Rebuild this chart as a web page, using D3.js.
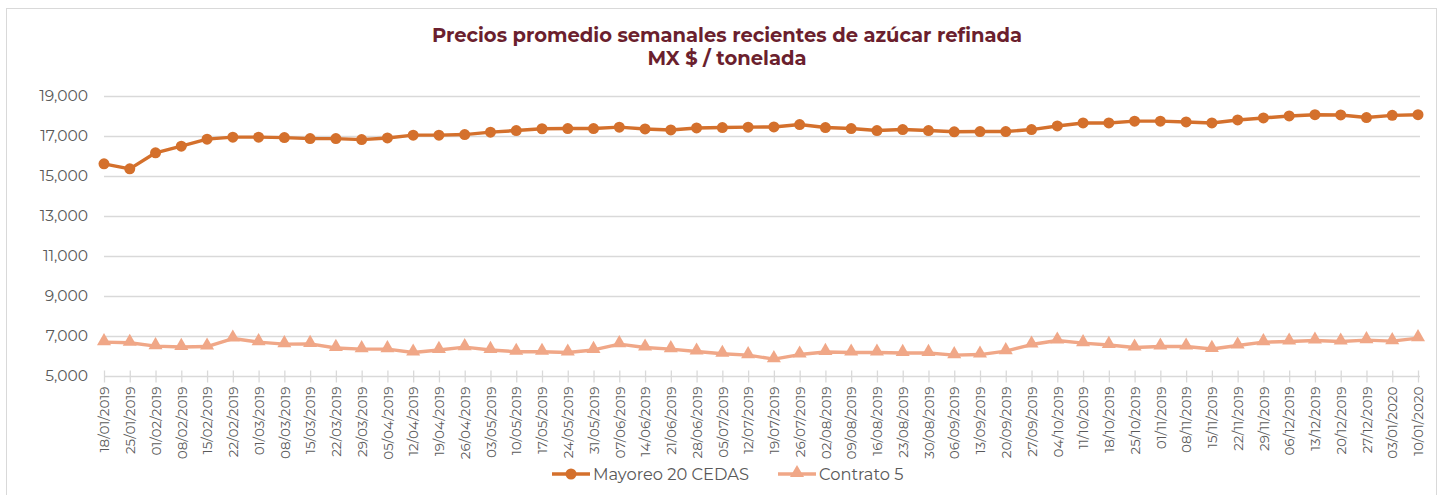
<!DOCTYPE html>
<html>
<head>
<meta charset="utf-8">
<script src="https://cdn.jsdelivr.net/npm/d3@7"></script>
<style>
  html, body { margin: 0; padding: 0; background: #fff; }
  svg { display: block; }
</style>
</head>
<body>
<div id="chart"></div>
<script>
const dates = [
  "18/01/2019","25/01/2019","01/02/2019","08/02/2019","15/02/2019","22/02/2019","01/03/2019","08/03/2019",
  "15/03/2019","22/03/2019","29/03/2019","05/04/2019","12/04/2019","19/04/2019","26/04/2019","03/05/2019",
  "10/05/2019","17/05/2019","24/05/2019","31/05/2019","07/06/2019","14/06/2019","21/06/2019","28/06/2019",
  "05/07/2019","12/07/2019","19/07/2019","26/07/2019","02/08/2019","09/08/2019","16/08/2019","23/08/2019",
  "30/08/2019","06/09/2019","13/09/2019","20/09/2019","27/09/2019","04/10/2019","11/10/2019","18/10/2019",
  "25/10/2019","01/11/2019","08/11/2019","15/11/2019","22/11/2019","29/11/2019","06/12/2019","13/12/2019",
  "20/12/2019","27/12/2019","03/01/2020","10/01/2020"
];

const mayoreo = [
  15590, 15340, 16140, 16470, 16820, 16920, 16920, 16900, 16850, 16850, 16800, 16880, 17020, 17020, 17050, 17170,
  17250, 17340, 17350, 17350, 17420, 17330, 17280, 17380, 17400, 17420, 17430, 17550, 17400, 17350, 17250, 17300,
  17250, 17190, 17200, 17200, 17300, 17480, 17630, 17630, 17720, 17720, 17680, 17630, 17780, 17880, 17980, 18040,
  18030, 17900, 18010, 18040
];

const contrato = [
  6690, 6660, 6490, 6450, 6470, 6870, 6690, 6590, 6600, 6400, 6340, 6340, 6170, 6300, 6440, 6300,
  6210, 6210, 6170, 6300, 6590, 6420, 6340, 6220, 6110, 6040, 5840, 6070, 6200, 6170, 6170, 6150,
  6150, 6040, 6070, 6240, 6570, 6770, 6640, 6550, 6420, 6470, 6470, 6350, 6520, 6690, 6720, 6770,
  6720, 6790, 6740, 6890
];

const yTicks = [5000, 7000, 9000, 11000, 13000, 15000, 17000, 19000];

const W = 1442, H = 495;
const plotL = 104, plotR = 1418, plotT = 95.5, plotB = 376;
const font = "Montserrat, 'Open Sans', 'Noto Sans', sans-serif";
const grey = "#595959";
const c1 = "#d4702c", c2 = "#f0a787";

const svg = d3.select("#chart").append("svg").attr("width", W).attr("height", H);

// outer frame
svg.append("rect").attr("x", 6.5).attr("y", 8.5).attr("width", 1430).attr("height", 495)
  .attr("fill", "#fff").attr("stroke", "#d9d9d9");

const x = d3.scalePoint().domain(dates).range([plotL, plotR]);
const y = d3.scaleLinear().domain([5000, 19000]).range([plotB, plotT]);

// gridlines
svg.append("g").selectAll("line").data(yTicks.slice(1)).join("line")
  .attr("x1", plotL).attr("x2", plotR + 2)
  .attr("y1", d => Math.round(y(d)) + 0.5).attr("y2", d => Math.round(y(d)) + 0.5)
  .attr("stroke", "#d9d9d9").attr("stroke-width", 1.3);

// y axis labels
const yAxis = svg.append("g").attr("transform", `translate(${plotL},0)`)
  .call(d3.axisLeft(y).tickValues(yTicks).tickFormat(d3.format(",")).tickSize(0).tickPadding(16));
yAxis.select(".domain").remove();
yAxis.selectAll("text").attr("fill", grey).style("font", `15.5px ${font}`);

// x axis
const xAxis = svg.append("g").attr("transform", `translate(0,${Math.round(plotB) + 0.5})`)
  .call(d3.axisBottom(x).tickSize(6).tickPadding(6));
xAxis.select(".domain").attr("stroke", "#d9d9d9").attr("stroke-width", 1.3)
  .attr("d", `M${plotL},0H${plotR + 2}`);
xAxis.selectAll(".tick line").attr("stroke", "#d9d9d9").attr("stroke-width", 1.3)
  .attr("y1", -6).attr("y2", 6);
xAxis.selectAll("text")
  .attr("fill", grey).style("font", `13.5px ${font}`)
  .attr("text-anchor", "end").attr("dy", "0.35em")
  .attr("transform", "translate(0,2) rotate(-90)")
  .attr("x", -8).attr("y", 0);

// lines
const line = d3.line().x((d, i) => x(dates[i])).y(d => y(d));

svg.append("path").datum(contrato).attr("d", line)
  .attr("fill", "none").attr("stroke", c2).attr("stroke-width", 3.4).attr("stroke-linejoin", "round");
const tri = d3.symbol().type(d3.symbolTriangle).size(85);
svg.append("g").selectAll("path").data(contrato).join("path")
  .attr("d", tri)
  .attr("transform", (d, i) => `translate(${x(dates[i])},${y(d) - 1})`)
  .attr("fill", c2);

svg.append("path").datum(mayoreo).attr("d", line)
  .attr("fill", "none").attr("stroke", c1).attr("stroke-width", 3.4).attr("stroke-linejoin", "round");
svg.append("g").selectAll("circle").data(mayoreo).join("circle")
  .attr("cx", (d, i) => x(dates[i])).attr("cy", d => y(d)).attr("r", 5.5)
  .attr("fill", c1);

// title
const title = svg.append("text").attr("text-anchor", "middle").attr("fill", "#6b1f2e")
  .style("font", `bold 19.5px ${font}`);
title.append("tspan").attr("x", 727).attr("y", 42).text("Precios promedio semanales recientes de azúcar refinada");
title.append("tspan").attr("x", 727).attr("y", 65).text("MX $ / tonelada");

// legend
const legend = [
  { name: "Mayoreo 20 CEDAS", color: c1, mark: "circle", x0: 552 },
  { name: "Contrato 5", color: c2, mark: "tri", x0: 778 }
];
const lg = svg.append("g");
legend.forEach(l => {
  const g = lg.append("g").attr("transform", `translate(${l.x0},474)`);
  g.append("line").attr("x1", 0).attr("x2", 38).attr("stroke", l.color).attr("stroke-width", 3.4);
  if (l.mark === "circle") g.append("circle").attr("cx", 19).attr("r", 5.5).attr("fill", l.color);
  else g.append("path").attr("d", tri).attr("transform", "translate(19,-1)").attr("fill", l.color);
  g.append("text").attr("x", 41).attr("dy", "0.35em").attr("fill", grey)
    .style("font", `16.3px ${font}`).text(l.name);
});
</script>
</body>
</html>
